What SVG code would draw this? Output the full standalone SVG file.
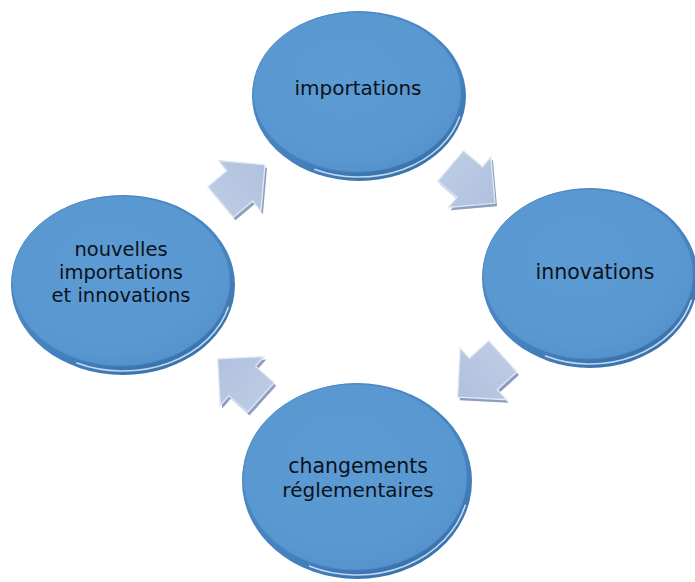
<svg xmlns="http://www.w3.org/2000/svg" width="695" height="582" viewBox="0 0 695 582">
  <defs>
    <linearGradient id="rimGrad" x1="0" y1="0" x2="0.6" y2="1">
      <stop offset="0" stop-color="#4f8cc8"/>
      <stop offset="0.7" stop-color="#4682c0"/>
      <stop offset="1" stop-color="#3a74af"/>
    </linearGradient>
    <radialGradient id="faceGrad" cx="0.45" cy="0.4" r="0.65">
      <stop offset="0" stop-color="#5d9bd4"/>
      <stop offset="0.8" stop-color="#5997d0"/>
      <stop offset="1" stop-color="#5490cb"/>
    </radialGradient>
    <linearGradient id="arrowGrad" x1="0" y1="0" x2="1" y2="0">
      <stop offset="0" stop-color="#bccbe4"/>
      <stop offset="1" stop-color="#b0c1de"/>
    </linearGradient>
    <filter id="soft" x="-10%" y="-10%" width="120%" height="120%">
      <feGaussianBlur stdDeviation="0.7"/>
    </filter>
    <path id="arrowShape" d="M-28,-20 L-3,-20 L-3,-33 L30,0 L-3,33 L-3,20 L-28,20 Z"/>
  </defs>
  <style>
    .rim { fill: url(#rimGrad); }
    .face { fill: url(#faceGrad); stroke: #4d86bf; stroke-width: 0.8; }
    .hl { fill: none; stroke: #dbeafa; stroke-width: 1.6; stroke-linecap: round; opacity: 0.85; filter: url(#soft); }
    .lbl { font-family: "DejaVu Sans", "Noto Sans", "Liberation Sans", sans-serif; fill: #0c121a; text-anchor: middle; }
    .aext { fill: #8d9ebf; }
    .aface { fill: url(#arrowGrad); stroke: #e2e9f5; stroke-width: 1.3; stroke-linejoin: miter; }
  </style>

  <g id="connectors">
    <g id="arrow-importations-innovations" transform="translate(472,184) rotate(40)">
      <use href="#arrowShape" class="aext" transform="rotate(-40) translate(2,3) rotate(40)"/>
      <use href="#arrowShape" class="aface"/>
    </g>
    <g id="arrow-innovations-changements" transform="translate(481,376) rotate(138) scale(1.05)">
      <use href="#arrowShape" class="aext" transform="rotate(-138) translate(2,3) rotate(138)"/>
      <use href="#arrowShape" class="aface"/>
    </g>
    <g id="arrow-changements-nouvelles" transform="translate(240,379) rotate(-138)">
      <use href="#arrowShape" class="aext" transform="rotate(138) translate(2,3) rotate(-138)"/>
      <use href="#arrowShape" class="aface"/>
    </g>
    <g id="arrow-nouvelles-importations" transform="translate(242,184) rotate(-40)">
      <use href="#arrowShape" class="aext" transform="rotate(40) translate(2,3) rotate(-40)"/>
      <use href="#arrowShape" class="aface"/>
    </g>
  </g>

  <g id="node-importations" transform="translate(359,96)">
    <ellipse class="rim" cx="0" cy="0" rx="107" ry="85"/>
    <path class="hl" d="M-44,73.4 A104,81 0 0 0 100.5,21"/>
    <ellipse class="face" cx="-2" cy="-4" rx="104" ry="80"/>
    <text class="lbl" x="-1" y="-1" font-size="20">importations</text>
  </g>

  <g id="node-innovations" transform="translate(590,278)">
    <ellipse class="rim" cx="0" cy="0" rx="108" ry="90"/>
    <path class="hl" d="M-44.4,77.9 A105,86 0 0 0 101.4,22.3"/>
    <ellipse class="face" cx="-2" cy="-4" rx="105" ry="85"/>
    <text class="lbl" x="5" y="1" font-size="20.5">innovations</text>
  </g>

  <g id="node-changements" transform="translate(357,481)">
    <ellipse class="rim" cx="0" cy="0" rx="115" ry="98"/>
    <path class="hl" d="M-47.3,85.2 A112,94 0 0 0 108.2,24.3"/>
    <ellipse class="face" cx="-2" cy="-4" rx="112" ry="93"/>
    <text class="lbl" x="1" y="-8.5" font-size="20.5">changements</text>
    <text class="lbl" x="1" y="16" font-size="20">réglementaires</text>
  </g>

  <g id="node-nouvelles" transform="translate(123,285)">
    <ellipse class="rim" cx="0" cy="0" rx="112" ry="90"/>
    <path class="hl" d="M-46.1,77.9 A109,86 0 0 0 105.3,22.3"/>
    <ellipse class="face" cx="-2" cy="-4" rx="109" ry="85"/>
    <text class="lbl" x="-2" y="-29" font-size="19.5">nouvelles</text>
    <text class="lbl" x="-2" y="-6" font-size="19.5">importations</text>
    <text class="lbl" x="-2" y="17" font-size="19.5">et innovations</text>
  </g>
</svg>
